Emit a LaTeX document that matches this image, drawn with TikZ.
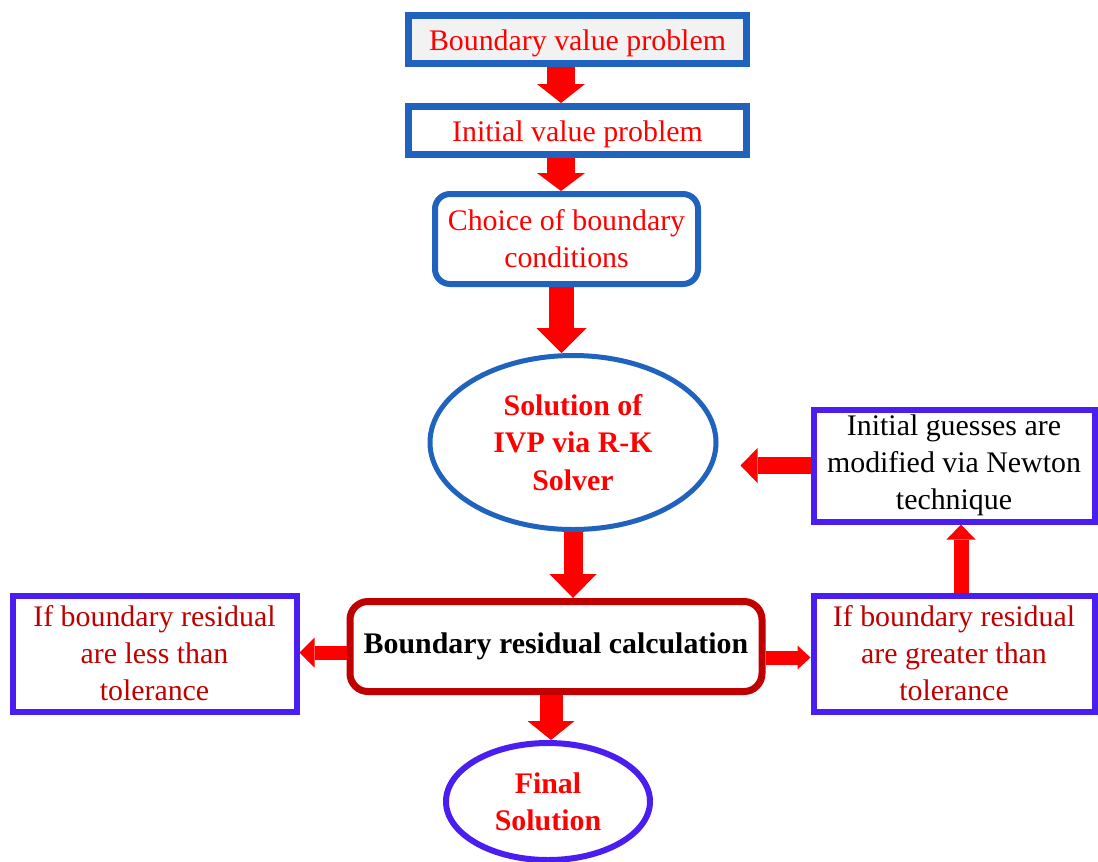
\documentclass[tikz,border=0pt]{standalone}
\usepackage{fontspec}
\setmainfont{Liberation Serif}
\usetikzlibrary{positioning,shapes.geometric,arrows.meta}

\definecolor{boxblue}{RGB}{31,99,190}
\definecolor{boxviolet}{RGB}{74,30,240}
\definecolor{boxred}{RGB}{192,0,0}
\definecolor{boxgray}{RGB}{242,242,242}

\tikzset{
  stagebox/.style={draw=boxblue, line width=0.14cm, fill=white, inner sep=0pt,
    minimum width=6.76cm, minimum height=0.96cm, text height=0.57cm, text=red},
  roundbox/.style={draw=boxblue, line width=0.12cm, rounded corners=0.3cm, inner sep=0pt,
    minimum width=5.26cm, minimum height=1.8cm, align=center, text=red},
  solverellipse/.style={ellipse, draw=boxblue, line width=0.1cm, inner sep=0pt,
    minimum width=5.72cm, minimum height=3.48cm, align=center, text=red, font=\fontsize{17}{21.5}\selectfont\bfseries},
  calcbox/.style={draw=boxred, line width=0.14cm, rounded corners=0.36cm, inner sep=0pt,
    minimum width=8.24cm, minimum height=1.8cm, font=\fontsize{17}{21}\selectfont\bfseries},
  checkbox/.style={draw=boxviolet, line width=0.12cm, inner sep=0pt,
    minimum width=5.62cm, minimum height=2.32cm, align=center, text=boxred},
  finalellipse/.style={ellipse, draw=boxviolet, line width=0.12cm, inner sep=0pt,
    minimum width=4.08cm, minimum height=2.34cm, align=center, text=red, font=\fontsize{17}{21}\selectfont\bfseries},
  fatarrow/.style n args={3}{draw=red, line width=#1,
    -{Triangle[length=#3, width=#2, line width=0pt]}},
}

\begin{document}
\begin{tikzpicture}[font=\fontsize{17}{21}\selectfont]
  \useasboundingbox (0,0) rectangle (21.96,-17.22);

  \node [stagebox, fill=boxgray] (bvp) at (11.55,-0.79) {Boundary value problem};
  \node [stagebox, below=0.72cm of bvp] (ivp) {Initial value problem};
  \node [roundbox, below=0.66cm of ivp, xshift=-0.22cm] (choice) {Choice of boundary\\conditions};
  \node [solverellipse, below=1.32cm of choice, xshift=0.13cm] (solver) {Solution of\\IVP via R-K\\Solver};
  \node [calcbox, below=1.32cm of solver, xshift=-0.34cm] (calc) {Boundary residual calculation};
  \node [checkbox, minimum width=5.68cm, left=0.94cm of calc, yshift=-0.14cm] (less) {If boundary residual\\are less than\\tolerance};
  \node [checkbox, right=0.9cm of calc, yshift=-0.14cm] (greater) {If boundary residual\\are greater than\\tolerance};
  \node [checkbox, text=black, minimum height=2.24cm, above=1.36cm of greater] (newton) {Initial guesses are\\modified via Newton\\technique};
  \node [finalellipse, below=0.9cm of calc, xshift=-0.16cm] (final) {Final\\Solution};

  \draw [fatarrow={0.56cm}{0.96cm}{0.38cm}] ([xshift=-0.33cm]bvp.south) -- ([xshift=-0.33cm]bvp.south |- ivp.north);
  \draw [fatarrow={0.56cm}{0.96cm}{0.36cm}] ([xshift=-0.33cm]ivp.south) -- ([xshift=-0.33cm]ivp.south |- choice.north);
  \draw [fatarrow={0.5cm}{1cm}{0.5cm}] ([xshift=-0.1cm]choice.south) -- ([xshift=-0.1cm]choice.south |- solver.north);
  \draw [fatarrow={0.38cm}{0.94cm}{0.48cm}] (solver.south) -- (solver.south |- calc.north);
  \draw [fatarrow={0.46cm}{0.94cm}{0.38cm}] ([xshift=-0.1cm]calc.south) -- ([xshift=-0.1cm]calc.south |- final.north);
  \draw [fatarrow={0.28cm}{0.6cm}{0.3cm}] ([yshift=-0.12cm]calc.west) -- ([yshift=-0.12cm]calc.west -| less.east);
  \draw [fatarrow={0.28cm}{0.48cm}{0.26cm}] ([yshift=-0.22cm]calc.east) -- ([yshift=-0.22cm]calc.east -| greater.west);
  \draw [fatarrow={0.3cm}{0.58cm}{0.3cm}] ([xshift=0.14cm]greater.north) -- ([xshift=0.14cm]greater.north |- newton.south);
  \draw [fatarrow={0.34cm}{0.7cm}{0.34cm}, shorten >=0.44cm] (newton.west) -- (newton.west -| solver.east);
\end{tikzpicture}
\end{document}
